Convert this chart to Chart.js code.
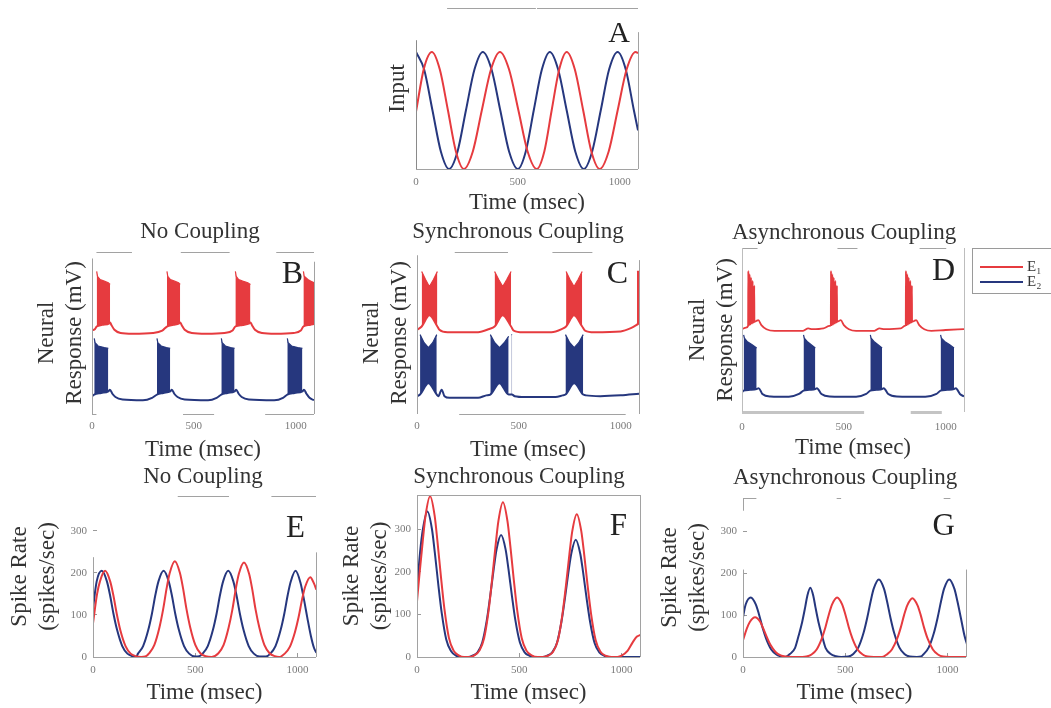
<!DOCTYPE html>
<html>
<head>
<meta charset="utf-8">
<script src="https://cdn.jsdelivr.net/npm/chart.js@4.4.1/dist/chart.umd.min.js"></script>
<style>
  html, body { margin: 0; padding: 0; background: #fff; overflow: hidden; }
  #fig { position: relative; width: 1051px; height: 708px; overflow: hidden; background: #fff; }
  #fig canvas { position: absolute; }
</style>
</head>
<body>
<div id="fig">
  <canvas id="panelA"></canvas>
  <canvas id="panelB"></canvas>
  <canvas id="panelC"></canvas>
  <canvas id="panelD"></canvas>
  <canvas id="panelE"></canvas>
  <canvas id="panelF"></canvas>
  <canvas id="panelG"></canvas>
</div>
<script>
// ---------- tick labels ----------
const timeTicks = [0, 500, 1000];
const rateTicks = [0, 100, 200, 300];
const T_MAX = 1090;

// ---------- A: sinusoidal input to E1 / E2, [time ms, normalised input] ----------
const inputE1 = [[0,0.49],[39,0.86],[78,1.0],[117,0.85],[157,0.5],[196,0.15],[235,0],[279,0.15],[323,0.5],[368,0.85],[412,1.0],[457,0.85],[503,0.5],[548,0.15],[593,0],[630,0.15],[666,0.5],[703,0.85],[740,1.0],[780,0.85],[821,0.5],[861,0.15],[902,0],[946,0.15],[990,0.5],[1034,0.85],[1078,1.0],[1090,0.99]];
const inputE2 = [[0,1.0],[40,0.85],[81,0.5],[122,0.15],[162,0],[204,0.15],[245,0.5],[287,0.85],[328,1.0],[371,0.85],[414,0.5],[457,0.15],[500,0],[539,0.15],[578,0.5],[618,0.85],[657,1.0],[698,0.85],[740,0.5],[782,0.15],[824,0],[865,0.15],[907,0.5],[948,0.85],[990,1.0],[1030,0.85],[1070,0.5],[1090,0.33]];

// ---------- B: no coupling, membrane traces (arbitrary mV units) ----------
const noCoupE1 = [[0,51.5],[15,52.5],[23,54],[50,55],[85,56],[89,56.5],[95,55],[110,52],[140,50],[200,49.5],[300,50],[345,51.5],[368,54],[400,55],[428,56],[433,56.5],[440,55],[455,52],[490,50],[560,49.5],[650,50],[690,51.5],[704,54],[740,55],[773,56],[778,56.5],[785,55],[800,52],[835,50],[900,49.5],[990,50],[1025,51.5],[1038,54],[1070,55],[1090,55.5]];
const noCoupE1Burst = [[23,88],[27,85],[40,83],[60,82],[80,81],[89,80],[90,null],[368,88],[372,85],[385,83],[405,82],[425,81],[433,80],[434,null],[704,88],[708,85],[720,83],[740,82],[765,81],[778,80],[779,null],[1038,88],[1042,85],[1060,83],[1075,82],[1090,81]];
const noCoupE2 = [[0,11],[11,12],[45,13],[80,14],[88,15],[100,12.5],[115,10.5],[150,9],[250,8.5],[295,10],[319,12],[350,13],[384,14],[392,15],[404,12.5],[420,10.5],[455,9],[570,8.5],[612,10],[635,12],[665,13],[700,14],[708,15],[720,12.5],[735,10.5],[770,9],[895,8.5],[938,10],[959,12],[995,13],[1033,14],[1041,15],[1053,12.5],[1068,10],[1090,8.5]];
const noCoupE2Burst = [[11,46.7],[15,44],[30,42],[60,41],[80,40.5],[81,null],[319,46.7],[323,44],[340,42],[365,41],[384,40.5],[385,null],[635,46.7],[639,44],[655,42],[680,41],[700,40.5],[701,null],[959,46.7],[963,44],[980,42],[1010,41],[1033,40.5]];

// ---------- C: synchronous coupling ----------
const syncE1 = [[0,52],[23,54],[61,61],[100,54],[110,52],[150,50.5],[300,50.5],[355,52.5],[381,54],[421,61],[462,54],[475,51.5],[520,50.5],[660,50.5],[712,52.5],[732,54],[771,61],[811,54],[825,51.5],[870,50.5],[1000,51],[1050,53],[1078,55],[1090,56]];
const syncE1Burst = [[23,88],[42,83],[61,78.6],[81,83],[100,88],[101,null],[381,88],[401,83],[421,78.6],[441,83],[462,88],[463,null],[732,88],[751,83],[771,78.6],[791,83],[811,88],[812,null],[1080,88],[1090,88]];
const syncE2 = [[0,11],[15,12],[56,19],[97,12],[105,11],[121,15],[135,11],[160,10],[300,10],[340,11.5],[360,12],[405,19],[450,12],[466,12],[480,11],[530,10.5],[680,10.5],[715,11.5],[729,12],[772,19],[816,12],[830,11.5],[900,11],[1000,11.5],[1090,12.5]];
const syncE2Burst = [[15,49],[35,44],[56,41],[77,44],[97,49],[98,null],[360,49],[382,44],[405,41],[428,44],[450,48],[451,null],[464,49],[467,49],[468,null],[729,49],[750,44],[772,41],[794,44],[816,49]];

// ---------- D: asynchronous coupling ----------
const asyncE1 = [[0,50.5],[20,51.5],[30,52.5],[31,86],[32,53],[36,53],[37,84],[38,53.5],[43,53.5],[44,82],[45,54],[51,54],[52,80],[53,54.5],[59,55],[60,77],[61,55],[70,55.5],[80,56],[95,53],[120,50.5],[160,49.5],[300,49.5],[325,51],[345,50.5],[400,51],[430,52.5],[436,53],[437,86],[438,53],[442,53],[443,84],[444,53.5],[449,53.5],[450,82],[451,54],[457,54],[458,80],[459,54.5],[465,55],[466,77],[467,55],[475,55.5],[485,56],[500,53],[525,50.5],[560,49.5],[650,49.5],[675,51],[700,50.5],[780,51],[800,52.5],[804,53],[805,86],[806,53],[810,53],[811,84],[812,53.5],[817,53.5],[818,82],[819,54],[825,54],[826,80],[827,54.5],[833,55],[834,77],[835,55],[845,55.5],[855,56],[870,53],[895,50.5],[930,49.5],[1000,50],[1090,50.5]];
const asyncE2 = [[0,12],[8,13],[40,13.5],[72,14],[82,14.5],[100,11],[140,9.5],[230,9.3],[280,11],[302,13],[330,13.5],[360,14],[368,14.5],[390,11],[430,9.5],[560,9.3],[610,11],[630,13],[660,13.5],[688,14],[696,14.5],[718,11],[760,9.5],[900,9.3],[955,11],[975,13],[1008,13.5],[1041,14],[1050,14.5],[1070,11],[1090,9.5]];
const asyncE2Burst = [[8,47],[12,45],[25,43],[50,41],[72,39],[73,null],[302,47],[306,45],[320,43],[340,41],[360,39],[361,null],[630,47],[634,45],[648,43],[668,41],[688,39],[689,null],[975,47],[979,45],[995,43],[1020,41],[1041,39]];

// ---------- E: no coupling, spike rate (spikes/sec) ----------
const rateNoCoupE1 = [[0,80],[20,150],[34,180],[59,205],[84,180],[99,148],[116,103],[134,63],[159,26],[184,8],[209,2],[235,0],[255,1],[275,9],[300,29],[325,71],[343,114],[360,164],[375,200],[400,228],[425,200],[440,164],[457,114],[475,71],[500,29],[525,9],[550,2],[580,0],[613,9],[638,28],[663,70],[681,112],[698,162],[713,198],[738,225],[763,198],[778,162],[795,112],[813,70],[838,28],[863,9],[888,2],[910,0],[937,8],[962,24],[987,59],[1005,95],[1022,137],[1037,167],[1062,190],[1080,175],[1092,160]];
const rateNoCoupE2 = [[0,116],[18,180],[43,205],[68,180],[83,148],[100,103],[118,64],[143,26],[168,8],[193,2],[210,0],[220,8],[245,26],[270,64],[288,103],[305,148],[320,180],[345,205],[370,180],[385,148],[402,103],[420,64],[445,26],[470,8],[500,1],[520,2],[536,8],[561,26],[586,64],[604,103],[621,148],[636,180],[661,205],[686,180],[701,148],[718,103],[736,64],[761,26],[786,8],[815,1],[845,1],[867,8],[892,26],[917,64],[935,103],[952,148],[967,180],[990,205],[1015,175],[1030,140],[1047,95],[1065,50],[1080,22],[1092,10]];

// ---------- F: synchronous coupling, spike rate ----------
const rateSyncE1 = [[0,131],[11,189],[28,272],[42,333],[64,378],[86,333],[100,272],[117,189],[134,113],[156,45],[179,15],[204,4],[230,0],[255,0],[280,4],[305,15],[328,44],[350,109],[367,182],[384,262],[398,320],[420,364],[442,320],[456,262],[473,182],[490,109],[512,44],[535,15],[560,4],[590,0],[615,0],[641,3],[666,13],[689,40],[711,101],[728,168],[745,242],[759,296],[781,336],[803,296],[817,242],[834,168],[851,101],[873,40],[896,13],[921,3],[950,0],[980,0],[1000,3],[1030,15],[1055,35],[1075,48],[1093,52]];
const rateSyncE2 = [[0,158],[15,246],[29,301],[51,342],[73,301],[87,246],[104,171],[121,103],[143,41],[166,14],[191,3],[215,0],[250,0],[271,3],[296,11],[319,34],[341,86],[358,144],[375,207],[389,253],[411,287],[433,253],[447,207],[464,144],[481,86],[503,34],[526,11],[551,3],[575,0],[615,0],[636,3],[661,11],[684,33],[706,83],[723,138],[740,199],[754,243],[776,276],[798,243],[812,199],[829,138],[846,83],[868,33],[891,11],[916,3],[940,0],[1093,0]];

// ---------- G: asynchronous coupling, spike rate ----------
const rateAsyncE1 = [[0,40],[19,68],[34,84],[59,95],[84,84],[99,68],[116,48],[134,29],[159,12],[184,4],[209,1],[240,0],[290,0],[310,1],[335,6],[360,18],[385,44],[403,71],[420,102],[435,125],[460,142],[485,125],[500,102],[517,71],[535,44],[560,18],[585,6],[610,1],[640,0],[680,0],[703,6],[728,18],[753,43],[771,70],[788,101],[803,123],[828,140],[853,123],[868,101],[885,70],[903,43],[928,18],[953,6],[978,1],[1010,0],[1095,0]];
const rateAsyncE2 = [[0,95],[13,125],[38,142],[63,125],[78,102],[95,71],[113,44],[138,18],[163,6],[188,1],[200,0],[212,1],[229,7],[254,21],[272,51],[289,83],[304,119],[314,145],[329,165],[344,145],[354,119],[369,83],[386,51],[404,21],[429,7],[454,2],[480,0],[515,1],[539,7],[564,23],[589,57],[607,93],[624,133],[639,163],[664,185],[689,163],[704,133],[721,93],[739,57],[764,23],[789,7],[815,1],[850,0],[870,1],[883,7],[908,23],[933,57],[951,93],[968,133],[983,163],[1008,185],[1033,163],[1048,133],[1065,93],[1083,50],[1095,30]];

// ---------- styling ----------
const RED = '#e63b3f';
const BLUE = '#26377e';
const INK = '#333333';
const TICK_INK = '#7a7a7a';
const FRAME = '#a2a2a2';
const SERIF = '"Liberation Serif", "Times New Roman", serif';
const titleFont = { family: SERIF, size: 23, weight: 'normal' };
const tickFont = { family: SERIF, size: 11 };
const plainNumber = v => String(v);

const toXY = arr => arr.map(([t, v]) => ({ x: t, y: v }));

function trace(label, arr, color, width) {
  return {
    label, data: toXY(arr), borderColor: color, backgroundColor: color,
    borderWidth: width || 2, pointRadius: 0, fill: false,
    cubicInterpolationMode: 'monotone', spanGaps: false
  };
}
function burst(arr, color) {
  // spike-burst envelope, filled down to the membrane trace drawn just before it
  return {
    label: '', data: toXY(arr), borderColor: color, backgroundColor: color,
    borderWidth: 1.2, pointRadius: 0, fill: '-1', tension: 0, spanGaps: false
  };
}

// frame segments, panel letter and boxed legend
function decoPlugin(d) {
  return {
    id: 'panelDeco',
    afterDraw(chart) {
      const { ctx, chartArea: a } = chart;
      ctx.save();
      for (const side of ['top', 'bottom', 'left', 'right']) {
        const s = d.frame[side];
        if (!s) continue;
        ctx.strokeStyle = s.color || FRAME;
        ctx.lineWidth = s.width || 1;
        for (const [f0, f1] of s.segs) {
          ctx.beginPath();
          if (side === 'top' || side === 'bottom') {
            const y = Math.round(side === 'top' ? a.top : a.bottom) + 0.5;
            ctx.moveTo(a.left + f0 * a.width, y);
            ctx.lineTo(a.left + f1 * a.width, y);
          } else {
            const x = Math.round(side === 'left' ? a.left : a.right) + 0.5;
            ctx.moveTo(x, a.top + f0 * a.height);
            ctx.lineTo(x, a.top + f1 * a.height);
          }
          ctx.stroke();
        }
      }
      if (d.letter) {
        ctx.fillStyle = '#222';
        ctx.font = `${d.letter.size || 31}px ${SERIF}`;
        ctx.textAlign = 'right';
        ctx.textBaseline = 'alphabetic';
        ctx.fillText(d.letter.text, a.right - d.letter.dx, a.top + d.letter.dy);
      }
      if (d.legend) {
        const items = chart.data.datasets.filter(ds => ds.label);
        const x0 = a.right + 8, y0 = Math.round(a.top) + 0.5;
        ctx.strokeStyle = '#9a9a9a';
        ctx.lineWidth = 1;
        ctx.strokeRect(x0 + 0.5, y0, 200, 45);
        ctx.font = `15px ${SERIF}`;
        ctx.textAlign = 'left';
        ctx.textBaseline = 'middle';
        items.forEach((ds, i) => {
          const y = a.top + 19 + i * 15;
          ctx.strokeStyle = ds.borderColor;
          ctx.lineWidth = 2;
          ctx.beginPath();
          ctx.moveTo(x0 + 8, y);
          ctx.lineTo(x0 + 51, y);
          ctx.stroke();
          ctx.fillStyle = INK;
          ctx.fillText(ds.label, x0 + 55, y);
        });
      }
      ctx.restore();
    }
  };
}

function makePanel(id, p) {
  const cv = document.getElementById(id);
  const w = p.box.r - p.box.l, h = p.box.b - p.box.t;
  cv.width = w; cv.height = h;
  cv.style.left = p.box.l + 'px'; cv.style.top = p.box.t + 'px';
  cv.style.width = w + 'px'; cv.style.height = h + 'px';
  const rate = !!p.rateAxis;
  return new Chart(cv, {
    type: 'line',
    data: { datasets: p.datasets },
    options: {
      responsive: false, animation: false, devicePixelRatio: 1, events: [],
      layout: { padding: { left: 0, top: p.padTop || 0, right: p.padRight || 0, bottom: 0 } },
      plugins: {
        legend: { display: false },
        tooltip: { enabled: false },
        title: p.heading
          ? { display: true, text: p.heading, font: titleFont, color: INK, padding: p.headPad }
          : { display: false }
      },
      scales: {
        x: {
          type: 'linear', position: 'bottom', min: 0, max: T_MAX,
          afterBuildTicks: s => { s.ticks = timeTicks.map(v => ({ value: v })); },
          afterFit: s => { s.height = p.xH; },
          ticks: { font: tickFont, color: TICK_INK, padding: p.xTickPad, maxRotation: 0, autoSkip: false, callback: plainNumber },
          grid: rate
            ? { display: true, drawOnChartArea: false, drawTicks: true, tickLength: -4, color: '#9a9a9a' }
            : { display: false, drawTicks: false },
          border: { display: false },
          title: { display: true, text: 'Time (msec)', font: titleFont, color: INK, padding: { top: 0, bottom: p.xTitlePad } }
        },
        y: {
          type: 'linear', position: 'left', min: 0, max: p.yMax,
          afterBuildTicks: rate ? (s => { s.ticks = rateTicks.map(v => ({ value: v })); }) : undefined,
          afterFit: s => { s.width = p.yW; },
          ticks: rate
            ? { display: true, font: tickFont, color: TICK_INK, padding: 10, autoSkip: false, callback: plainNumber }
            : { display: false },
          grid: rate
            ? { display: true, drawOnChartArea: false, drawTicks: true, tickLength: -4, color: '#9a9a9a' }
            : { display: false, drawTicks: false },
          border: { display: false },
          title: { display: true, text: p.yTitle, font: titleFont, color: INK, padding: { top: p.yTitlePad, bottom: 0 } }
        },
        y2: {
          type: 'linear', position: 'right', display: true,
          afterFit: s => { s.width = p.y2W; },
          ticks: { display: false },
          grid: { display: false, drawTicks: false },
          border: { display: false }
        }
      }
    },
    plugins: [decoPlugin(p.deco)]
  });
}

const neuralTitle = ['Neural', 'Response (mV)'];
const rateTitle = ['Spike Rate', '(spikes/sec)'];

// A
makePanel('panelA', {
  box: { l: 380, t: 0, r: 640, b: 220 }, padTop: 8,
  yW: 36, y2W: 2, xH: 51, yMax: 1.376,
  xTickPad: 6.9, xTitlePad: 3.2, yTitle: 'Input', yTitlePad: 4.2,
  datasets: [trace('E₁', inputE1, RED), trace('E₂', inputE2, BLUE)],
  deco: {
    frame: {
      top: { segs: [[0.14, 0.54], [0.545, 1]] }, bottom: { segs: [[0, 1]] },
      left: { segs: [[0.2, 1]], color: '#8a8a8a' }, right: { segs: [[0.15, 1]] }
    },
    letter: { text: 'A', dx: 8, dy: 34, size: 30 }
  }
});

// B
makePanel('panelB', {
  box: { l: 30, t: 215, r: 370, b: 470 }, heading: 'No Coupling', headPad: { top: 3.2, bottom: 6.2 },
  yW: 62, y2W: 56, xH: 56, yMax: 100,
  xTickPad: 5.4, xTitlePad: 6.2, yTitle: neuralTitle, yTitlePad: 3.2,
  datasets: [trace('E₁', noCoupE1, RED), burst(noCoupE1Burst, RED), trace('E₂', noCoupE2, BLUE), burst(noCoupE2Burst, BLUE)],
  deco: {
    frame: {
      top: { segs: [[0.02, 0.18], [0.40, 0.62], [0.83, 1]] },
      bottom: { segs: [[0, 0.02], [0.41, 0.55], [0.78, 1]] },
      left: { segs: [[0.04, 1]] }, right: { segs: [[0.06, 1]] }
    },
    letter: { text: 'B', dx: 11, dy: 31, size: 32 }
  }
});

// C
makePanel('panelC', {
  box: { l: 355, t: 215, r: 681, b: 470 }, heading: 'Synchronous Coupling', headPad: { top: 3.2, bottom: 6.2 },
  yW: 62, y2W: 42, xH: 56, yMax: 100,
  xTickPad: 5.4, xTitlePad: 6.2, yTitle: neuralTitle, yTitlePad: 3.2,
  datasets: [trace('E₁', syncE1, RED), burst(syncE1Burst, RED), trace('E₂', syncE2, BLUE), burst(syncE2Burst, BLUE)],
  deco: {
    frame: {
      top: { segs: [[0.17, 0.41], [0.61, 0.79]] },
      bottom: { segs: [[0.19, 0.94]] },
      left: { segs: [[0.02, 1]] }, right: { segs: [[0.05, 1]] }
    },
    letter: { text: 'C', dx: 11, dy: 31, size: 32 }
  }
});

// D
makePanel('panelD', {
  box: { l: 681, t: 215, r: 1060, b: 468 }, padRight: 53,
  heading: 'Asynchronous Coupling', headPad: { top: 4.2, bottom: 1.2 },
  yW: 61, y2W: 43, xH: 56, yMax: 100,
  xTickPad: 8.1, xTitlePad: 5.9, yTitle: neuralTitle, yTitlePad: 3.5,
  datasets: [trace('E₁', asyncE1, RED, 1.8), trace('E₂', asyncE2, BLUE), burst(asyncE2Burst, BLUE)],
  deco: {
    frame: {
      top: { segs: [[0, 0.07], [0.43, 0.52], [0.8, 0.92]] },
      bottom: { segs: [[0, 0.55], [0.76, 0.9]], color: '#c4c4c4', width: 3 },
      left: { segs: [[0, 1]], color: '#bdbdbd' }, right: { segs: [[0, 1]], color: '#bdbdbd' }
    },
    letter: { text: 'D', dx: 9, dy: 32, size: 32 },
    legend: true
  }
});

// E
makePanel('panelE', {
  box: { l: 3, t: 460, r: 403, b: 708 }, heading: 'No Coupling', headPad: { top: 3.2, bottom: 5.2 },
  yW: 90, y2W: 87, xH: 51, yMax: 383, rateAxis: true,
  xTickPad: 10.4, xTitlePad: 0.9, yTitle: rateTitle, yTitlePad: 3.2,
  datasets: [trace('E₁', rateNoCoupE1, RED), trace('E₂', rateNoCoupE2, BLUE)],
  deco: {
    frame: {
      top: { segs: [[0.38, 0.61], [0.80, 1]] }, bottom: { segs: [[0, 1]] },
      left: { segs: [[0.38, 1]] }, right: { segs: [[0.35, 1]] }
    },
    letter: { text: 'E', dx: 11, dy: 41, size: 31 }
  }
});

// F
makePanel('panelF', {
  box: { l: 335, t: 460, r: 703, b: 708 }, heading: 'Synchronous Coupling', headPad: { top: 3.2, bottom: 4.2 },
  yW: 82, y2W: 63, xH: 51, yMax: 381, rateAxis: true,
  xTickPad: 10.4, xTitlePad: 0.9, yTitle: rateTitle, yTitlePad: 3.2,
  datasets: [trace('E₁', rateSyncE1, RED), trace('E₂', rateSyncE2, BLUE)],
  deco: {
    frame: {
      top: { segs: [[0, 1]] }, bottom: { segs: [[0, 1]] },
      left: { segs: [[0, 1]] }, right: { segs: [[0, 1]] }
    },
    letter: { text: 'F', dx: 13, dy: 40, size: 31 }
  }
});

// G
makePanel('panelG', {
  box: { l: 653, t: 460, r: 1037, b: 708 }, heading: 'Asynchronous Coupling', headPad: { top: 4.2, bottom: 6.2 },
  yW: 90, y2W: 71, xH: 51, yMax: 379, rateAxis: true,
  xTickPad: 10.4, xTitlePad: 0.9, yTitle: rateTitle, yTitlePad: 3.2,
  datasets: [trace('E₁', rateAsyncE1, RED), trace('E₂', rateAsyncE2, BLUE)],
  deco: {
    frame: {
      top: { segs: [[0, 0.06], [0.42, 0.44], [0.9, 0.93]] }, bottom: { segs: [[0, 1]] },
      left: { segs: [[0, 0.08], [0.45, 1]] }, right: { segs: [[0.45, 1]] }
    },
    letter: { text: 'G', dx: 11, dy: 37, size: 31 }
  }
});
</script>
</body>
</html>
